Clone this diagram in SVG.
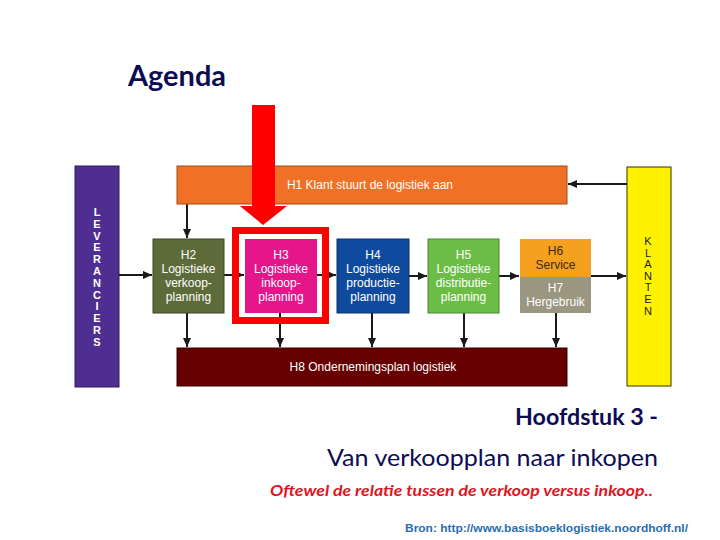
<svg xmlns="http://www.w3.org/2000/svg" width="720" height="540" viewBox="0 0 720 540">
<defs>
<marker id="ah" viewBox="0 0 10 10" refX="10" refY="5" markerWidth="5" markerHeight="4.5" orient="auto" markerUnits="strokeWidth">
<path d="M0,0.5 L10,5 L0,9.5 z" fill="#1a1a1a"/>
</marker>
<style>
.bt{font-family:"Liberation Sans",Arial,sans-serif;font-size:12px;fill:#ffffff;text-anchor:middle}
.vt{font-family:"Liberation Sans",Arial,sans-serif;font-size:11px;text-anchor:middle}
.cn{stroke:#1a1a1a;stroke-width:2;fill:none;marker-end:url(#ah)}
.ttl{font-family:Lato,"Liberation Sans",sans-serif;fill:#0c0c55}
</style>
</defs>
<rect width="720" height="540" fill="#ffffff"/>
<text class="ttl" x="128" y="86" font-size="28" font-weight="bold" textLength="98" lengthAdjust="spacingAndGlyphs">Agenda</text>

<g id="connectors">
<line class="cn" x1="119" y1="275" x2="152" y2="275"/>
<line class="cn" x1="224" y1="275" x2="244" y2="275"/>
<line class="cn" x1="317" y1="275" x2="336" y2="275"/>
<line class="cn" x1="409" y1="276" x2="427" y2="276"/>
<line class="cn" x1="499" y1="276" x2="519" y2="276"/>
<line class="cn" x1="591" y1="276" x2="626" y2="276"/>
<line class="cn" x1="627" y1="184" x2="568" y2="184"/>
<line class="cn" x1="187" y1="204" x2="187" y2="238"/>
<line class="cn" x1="187" y1="313" x2="187" y2="347"/>
<line class="cn" x1="280" y1="313" x2="280" y2="347"/>
<line class="cn" x1="372" y1="313" x2="372" y2="347"/>
<line class="cn" x1="464" y1="313" x2="464" y2="347"/>
<line class="cn" x1="556" y1="313" x2="556" y2="347"/>
</g>

<g id="leveranciers">
<rect x="75" y="166" width="44" height="221" fill="#4f2e91" stroke="#2e1a5a" stroke-width="1"/>
<text class="vt" fill="#ffffff" font-weight="bold" font-size="10.5">
<tspan x="97" y="216">L</tspan><tspan x="97" y="227.8">E</tspan><tspan x="97" y="239.6">V</tspan><tspan x="97" y="251.4">E</tspan><tspan x="97" y="263.2">R</tspan><tspan x="97" y="275">A</tspan><tspan x="97" y="286.8">N</tspan><tspan x="97" y="298.6">C</tspan><tspan x="97" y="310.4">I</tspan><tspan x="97" y="322.2">E</tspan><tspan x="97" y="334">R</tspan><tspan x="97" y="345.8">S</tspan>
</text>
</g>

<g id="h1">
<rect x="177" y="166" width="390" height="38" fill="#f07125" stroke="#a04a10" stroke-width="1"/>
<text class="bt" x="370" y="189">H1 Klant stuurt de logistiek aan</text>
</g>

<g id="klanten">
<rect x="627" y="167" width="44" height="219" fill="#fff200" stroke="#333300" stroke-width="1"/>
<text class="vt" fill="#222222">
<tspan x="648" y="245">K</tspan><tspan x="648" y="256.6">L</tspan><tspan x="648" y="268.2">A</tspan><tspan x="648" y="279.8">N</tspan><tspan x="648" y="291.4">T</tspan><tspan x="648" y="303">E</tspan><tspan x="648" y="314.6">N</tspan>
</text>
</g>

<g id="h2">
<rect x="153" y="239" width="71" height="74" fill="#5d6b3a" stroke="#3a4422" stroke-width="1"/>
<text class="bt"><tspan x="188.5" y="259">H2</tspan><tspan x="188.5" y="273">Logistieke</tspan><tspan x="188.5" y="287">verkoop-</tspan><tspan x="188.5" y="301">planning</tspan></text>
</g>

<g id="h3">
<rect x="235.5" y="230.5" width="90" height="90" fill="none" stroke="#ff0000" stroke-width="7"/>
<rect x="245" y="239" width="72" height="74" fill="#e5168a"/>
<text class="bt"><tspan x="281" y="259">H3</tspan><tspan x="281" y="273">Logistieke</tspan><tspan x="281" y="287">inkoop-</tspan><tspan x="281" y="301">planning</tspan></text>
</g>

<g id="h4">
<rect x="337" y="239" width="72" height="74" fill="#0f4a9e" stroke="#0a3070" stroke-width="1"/>
<text class="bt"><tspan x="373" y="259">H4</tspan><tspan x="373" y="273">Logistieke</tspan><tspan x="373" y="287">productie-</tspan><tspan x="373" y="301">planning</tspan></text>
</g>

<g id="h5">
<rect x="428" y="239" width="71" height="74" fill="#6cbd45" stroke="#4a8a2e" stroke-width="1"/>
<text class="bt"><tspan x="463.5" y="259">H5</tspan><tspan x="463.5" y="273">Logistieke</tspan><tspan x="463.5" y="287">distributie-</tspan><tspan x="463.5" y="301">planning</tspan></text>
</g>

<g id="h6">
<rect x="520" y="239" width="71" height="38" fill="#f5a11f"/>
<text class="bt" style="fill:#3a2a10"><tspan x="555.5" y="255">H6</tspan><tspan x="555.5" y="269">Service</tspan></text>
</g>

<g id="h7">
<rect x="520" y="277" width="71" height="36" fill="#9a9680"/>
<text class="bt"><tspan x="555.5" y="292">H7</tspan><tspan x="555.5" y="306">Hergebruik</tspan></text>
</g>

<g id="h8">
<rect x="177" y="348" width="390" height="38" fill="#660000" stroke="#330000" stroke-width="1"/>
<text class="bt" x="373" y="371">H8 Ondernemingsplan logistiek</text>
</g>

<g id="red-arrow">
<path d="M252,105 L275,105 L275,206 L287,206 L263,225 L240,206 L252,206 Z" fill="#ff0000"/>
</g>

<text class="ttl" x="515" y="425" font-size="22" font-weight="bold" textLength="143" lengthAdjust="spacingAndGlyphs">Hoofdstuk 3 -</text>
<text class="ttl" x="327" y="466" font-size="24" textLength="331" lengthAdjust="spacingAndGlyphs">Van verkoopplan naar inkopen</text>
<text x="270" y="496" font-family="Lato,'Liberation Sans',sans-serif" font-size="16" font-weight="bold" font-style="italic" fill="#e0141e" textLength="383" lengthAdjust="spacingAndGlyphs">Oftewel de relatie tussen de verkoop versus inkoop..</text>
<text x="405" y="532" font-family="'Liberation Sans',Arial,sans-serif" font-size="11.5" font-weight="bold" fill="#1f6fb5" textLength="283" lengthAdjust="spacingAndGlyphs">Bron: http://www.basisboeklogistiek.noordhoff.nl/</text>
</svg>
